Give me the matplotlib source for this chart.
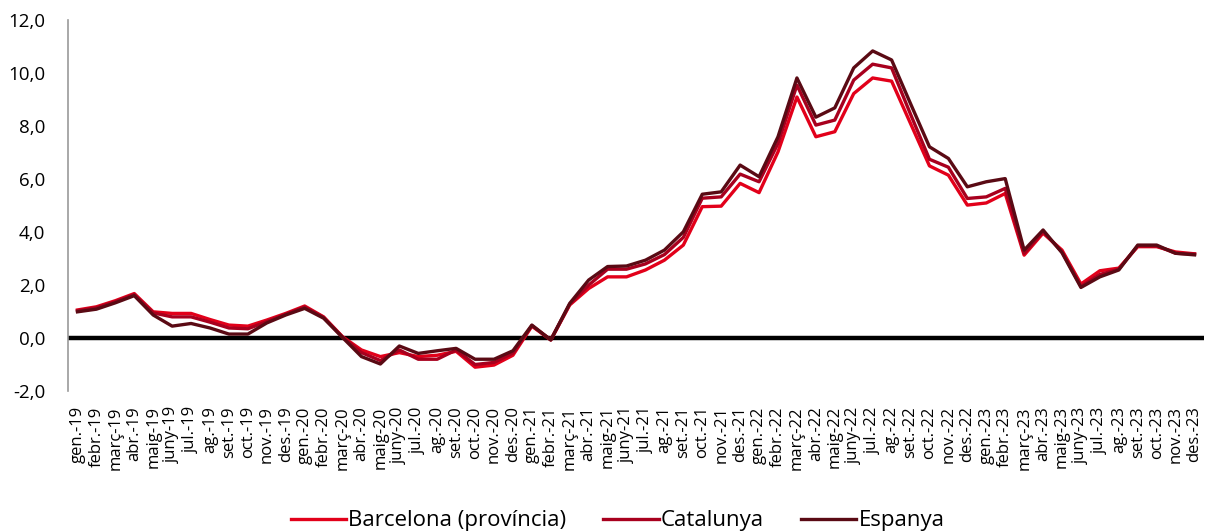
import matplotlib
matplotlib.use("Agg")
import matplotlib.pyplot as plt
import numpy as np

plt.rcParams['font.family'] = ['Open Sans', 'DejaVu Sans']

months = ["gen.", "febr.", "març", "abr.", "maig", "juny", "jul.", "ag.", "set.", "oct.", "nov.", "des."]
years = ["19", "20", "21", "22", "23"]
labels = [f"{m}-{y}" for y in years for m in months]

barcelona = [1.06, 1.18, 1.41, 1.68, 0.99, 0.93, 0.93, 0.70, 0.49, 0.45, 0.68, 0.93,
             1.21, 0.80, 0.05, -0.45, -0.70, -0.55, -0.70, -0.65, -0.50, -1.10, -1.02, -0.65,
             0.45, -0.07, 1.25, 1.87, 2.31, 2.31, 2.57, 2.94, 3.51, 4.96, 4.98, 5.84,
             5.49, 7.03, 9.10, 7.60, 7.79, 9.23, 9.82, 9.70, 8.10, 6.50, 6.15, 5.02,
             5.10, 5.46, 3.13, 3.96, 3.32, 2.04, 2.54, 2.64, 3.45, 3.45, 3.25, 3.18]
catalunya = [1.03, 1.14, 1.37, 1.64, 0.95, 0.80, 0.80, 0.60, 0.38, 0.35, 0.62, 0.90,
             1.17, 0.78, 0.04, -0.55, -0.85, -0.45, -0.80, -0.80, -0.45, -1.00, -0.92, -0.57,
             0.47, -0.07, 1.28, 2.00, 2.60, 2.60, 2.80, 3.15, 3.80, 5.28, 5.33, 6.19,
             5.90, 7.35, 9.55, 8.04, 8.23, 9.74, 10.34, 10.20, 8.45, 6.75, 6.45, 5.27,
             5.33, 5.65, 3.20, 4.02, 3.25, 1.95, 2.40, 2.60, 3.48, 3.48, 3.20, 3.17]
espanya = [0.99, 1.09, 1.33, 1.60, 0.87, 0.45, 0.55, 0.38, 0.15, 0.15, 0.57, 0.87,
           1.12, 0.75, 0.02, -0.70, -0.98, -0.30, -0.58, -0.48, -0.39, -0.80, -0.80, -0.48,
           0.49, -0.07, 1.31, 2.19, 2.70, 2.72, 2.94, 3.32, 4.01, 5.43, 5.52, 6.53,
           6.09, 7.60, 9.82, 8.34, 8.69, 10.20, 10.84, 10.50, 8.85, 7.22, 6.78, 5.71,
           5.90, 6.02, 3.32, 4.08, 3.22, 1.91, 2.31, 2.57, 3.51, 3.51, 3.20, 3.14]

series_names = ["Barcelona (província)", "Catalunya", "Espanya"]
colors = ["#E2001A", "#A8001E", "#5A0A14"]

fig = plt.figure(figsize=(12.12, 5.32), dpi=100)
ax = fig.add_axes([0.0561, 0.265, 0.9373, 0.697])

x = np.arange(len(labels))
for vals, name, c in zip([barcelona, catalunya, espanya], series_names, colors):
    ax.plot(x, vals, color=c, lw=2.4, label=name)

ax.axhline(0, color="black", lw=3.2, zorder=1)

ax.set_xlim(-0.5, 59.5)
ax.set_ylim(-2, 12)
ax.set_yticks(np.arange(-2, 13, 2))
ax.set_yticklabels([f"{v:.1f}".replace(".", ",") for v in np.arange(-2, 13, 2)], fontsize=13.5)
ax.set_xticks(x)
ax.set_xticklabels(labels, rotation=90, fontsize=12)
ax.tick_params(axis='both', length=0)
ax.tick_params(axis='y', pad=16.5)
ax.tick_params(axis='x', pad=11)

for s in ["top", "right", "bottom"]:
    ax.spines[s].set_visible(False)
ax.spines["left"].set_color("#9A9A9A")
ax.spines["left"].set_linewidth(1.2)

fig.legend(loc="center", bbox_to_anchor=(0.5095, 0.021), ncol=3, frameon=False,
           fontsize=16, handlelength=2.5, columnspacing=1.65, handletextpad=0.1,
           borderpad=0.0)

fig.savefig("out.png", dpi=100)
